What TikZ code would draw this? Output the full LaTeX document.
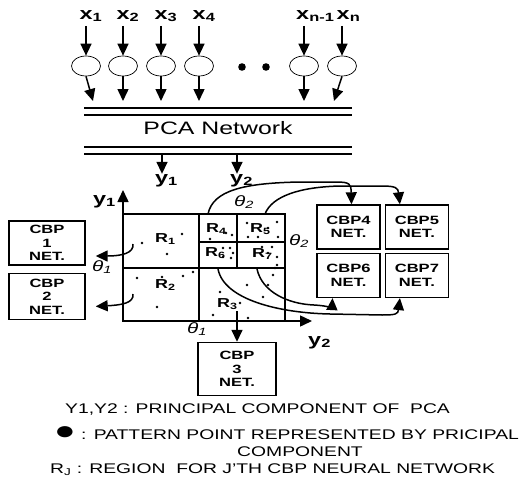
\documentclass[tikz,border=0pt]{standalone}
\usepackage{fontspec}
\setmainfont{Liberation Sans}[FakeStretch=1.38]
\usetikzlibrary{shapes.geometric, arrows.meta, positioning, calc}

\tikzset{
    % Node styles
    cbpbox/.style={
        rectangle,
        draw,
        line width=1.4pt,
        minimum width=63pt,
        minimum height=44pt,
        inner sep=0pt,
        align=center,
        font=\fontsize{12}{13.5}\selectfont\bfseries
    },
    neuron/.style={
        ellipse,
        draw,
        line width=0.7pt,
        minimum width=29pt,
        minimum height=20pt,
        inner sep=0pt
    },
    varlabel/.style={
        inner sep=0pt,
        font=\fontsize{17}{17}\selectfont\bfseries
    },
    reglabel/.style={
        inner sep=0pt,
        anchor=base west,
        font=\fontsize{13}{13}\selectfont\bfseries
    },
    anglabel/.style={
        inner sep=0pt,
        anchor=west,
        font=\fontsize{15}{15}\selectfont\itshape
    },
    legend/.style={
        inner sep=0pt,
        anchor=west,
        font=\fontsize{14}{14}\selectfont
    },
    % Arrow and line styles
    myarrow/.style={
        -{Triangle[length=12pt,width=11pt]},
        line width=1.5pt
    },
    gridline/.style={
        line width=1.5pt
    },
    patdot/.style={
        fill=black
    }
}

\begin{document}
\begin{tikzpicture}[x=1pt, y=-1pt]
    \useasboundingbox (0,0) rectangle (519,479);

    % Inputs and input neurons
    \foreach \i/\px/\idx/\dx in {1/86/1/6.5, 2/123/2/6.5, 3/161/3/6.5, 4/199/4/6.5, 5/304/{n-1}/8, 6/342/n/5.5}{
        \node[varlabel, anchor=base west] (x\i) at (\px-\dx,19) {x\textsubscript{\idx}};
        \node[neuron] (n\i) at (\px,66) {};
        \draw[myarrow, shorten <=4pt] (x\i.south -| n\i.north) -- (n\i.north);
    }
    \fill (242,67) circle (3.8pt);
    \fill (266,67) circle (3.8pt);

    % Neuron outputs into the PCA network
    \foreach \i/\ex in {1/93, 2/123, 3/161, 4/199, 5/304, 6/334}{
        \coordinate (p\i) at (\ex,101);
        \draw[myarrow] (n\i.south) -- (p\i);
    }

    % PCA network
    \draw[line width=1.1pt] (84,108) -- (352,108);
    \draw[line width=1.4pt] (84,115) -- (352,115);
    \node[font=\fontsize{18}{18}\selectfont, inner sep=0pt] (pca) at (218,128) {PCA Network};
    \draw[line width=1.1pt] (84,147) -- (352,147);
    \draw[line width=1.4pt] (84,154) -- (352,154);

    % Principal components
    \coordinate (q1) at (162,154);
    \coordinate (q2) at (237,154);
    \node[varlabel, anchor=base west] (y1) at (155,183) {y\textsubscript{1}};
    \node[varlabel, anchor=base west] (y2) at (230,183) {y\textsubscript{2}};
    \draw[myarrow] (q1) -- (y1.north -| q1);
    \draw[myarrow] (q2) -- (y2.north -| q2);

    % Axes
    \coordinate (O) at (123,321);
    \coordinate (ytop) at (123,190);
    \coordinate (xend) at (312,321);
    \draw[myarrow] (O) -- (ytop);
    \draw[myarrow] (O) -- (xend);
    \node[varlabel, anchor=base west] (ax1) at (93,204) {y\textsubscript{1}};
    \node[varlabel, anchor=base west] (ax2) at (308,345) {y\textsubscript{2}};

    % Regions
    \draw[gridline] (123,214) rectangle (285,321);
    \draw[gridline] (123,268) -- (285,268);
    \draw[gridline] (199,214) -- (199,321);
    \draw[gridline] (237,214) -- (237,268);
    \draw[gridline] (199,242) -- (285,242);

    \node[reglabel] (r1) at (155,242) {R\textsubscript{1}};
    \node[reglabel] (r2) at (155,288) {R\textsubscript{2}};
    \node[reglabel] (r3) at (217,307) {R\textsubscript{3}};
    \node[reglabel] (r4) at (206,232) {R\textsubscript{4}};
    \node[reglabel] (r5) at (250,232) {R\textsubscript{5}};
    \node[reglabel] (r6) at (205,256) {R\textsubscript{6}};
    \node[reglabel] (r7) at (252,257) {R\textsubscript{7}};

    % Angles
    \node[anglabel] (t1a) at (92,267) {θ\textsubscript{1}};
    \node[anglabel] (t1b) at (187,329) {θ\textsubscript{1}};
    \node[anglabel] (t2a) at (234,202) {θ\textsubscript{2}};
    \node[anglabel] (t2b) at (289,241) {θ\textsubscript{2}};

    % Pattern points
    \foreach \px/\py in {182/234, 142/243, 167/254,
                         162/277, 183/276, 193/272, 137/278, 157/307,
                         220/292, 247/285, 263/297, 268/285, 213/315, 248/318, 273/275, 275/268, 240/303,
                         226/233, 232/235, 210/239,
                         247/223, 277/222, 248/237, 258/237, 268/228, 278/237,
                         223/248, 230/248, 233/253, 223/257, 231/258,
                         262/247, 268/253, 272/247, 277/257, 277/265}{
        \fill[patdot] (\px,\py) circle (1.3pt);
    }

    % CBP networks
    \node[cbpbox, minimum width=76pt, minimum height=44pt] (cbp1) at (47,243) {CBP\\1\\NET.};
    \node[cbpbox, minimum width=76pt, minimum height=46pt, below=7pt of cbp1] (cbp2) {CBP\\2\\NET.};
    \node[cbpbox, minimum width=78pt, minimum height=53pt] (cbp3) at (237,369) {CBP\\3\\NET.};
    \node[cbpbox] (cbp4) at (348.5,227) {CBP4\\NET.};
    \node[cbpbox, right=4pt of cbp4] (cbp5) {CBP5\\NET.};
    \node[cbpbox, below=3pt of cbp4] (cbp6) {CBP6\\NET.};
    \node[cbpbox, below=3pt of cbp5] (cbp7) {CBP7\\NET.};

    % Region to network connectors
    \coordinate (s1) at (133,244);
    \coordinate (s2) at (133,294);
    \coordinate (s3) at (237,311);
    \coordinate (s4) at (208,214);
    \coordinate (s5) at (265,214);
    \coordinate (s6) at (218,269);
    \coordinate (s7) at (257,269);

    \draw[myarrow] (s1) .. controls (134,253) and (122,256) .. ([xshift=10pt,yshift=-13pt]cbp1.east);
    \draw[myarrow] (s2) .. controls (134,303) and (122,305) .. ([xshift=10pt,yshift=-10pt]cbp2.east);
    \draw[myarrow] (s3) -- (cbp3.north);
    \draw[myarrow] (s4) .. controls (213,190) and (245,183) .. (300,182) -- (336,182)
        .. controls (350,182) and (351,184) .. ([xshift=3pt]cbp4.north);
    \draw[myarrow] (s5) .. controls (272,196) and (300,187) .. (340,186) -- (382,186)
        .. controls (396,186) and (398,188) .. ([xshift=-17pt]cbp5.north);
    \draw[myarrow] (s6) .. controls (224,300) and (280,313) .. (330,314) -- (382,315)
        .. controls (396,315) and (398,314) .. ([xshift=-17pt]cbp7.south);
    \draw[myarrow] (s7) .. controls (262,292) and (288,304) .. (314,305)
        .. controls (330,306) and (332,308) .. ([xshift=-16pt]cbp6.south);

    % Legend
    \node[legend] (lg1) at (65,410) {Y1,Y2 : PRINCIPAL COMPONENT OF\ \ PCA};
    \node[legend] (lg2) at (54,433) {{\fontsize{26}{14}\selectfont ●} : PATTERN POINT REPRESENTED BY PRICIPAL};
    \node[legend, anchor=center] (lg3) at (300,452) {COMPONENT};
    \node[legend] (lg4) at (50,470) {R\textsubscript{J} : REGION\ \ FOR J'TH CBP NEURAL NETWORK};
\end{tikzpicture}
\end{document}
